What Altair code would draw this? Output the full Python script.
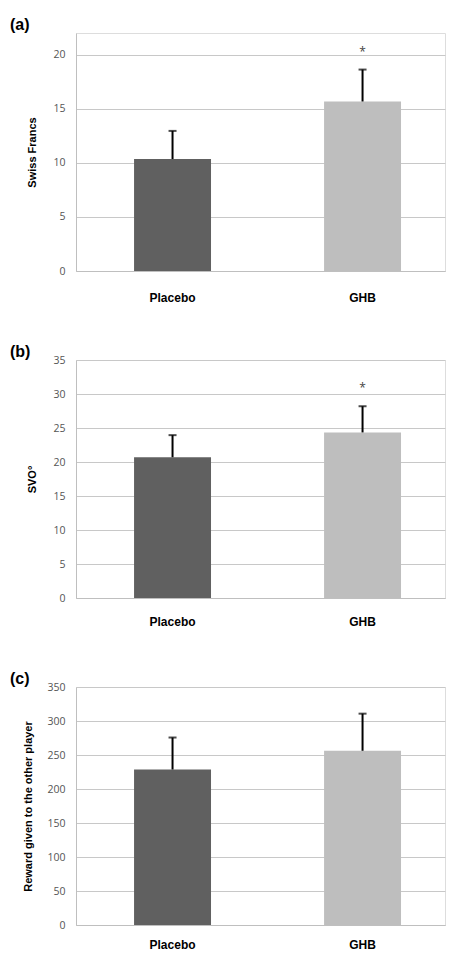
import altair as alt
import pandas as pd

groups = ["Placebo", "GHB"]
colors = ["#606060", "#bebebe"]

money_mean = [10.35, 15.67]
money_err = [2.6, 2.95]
svo_mean = [20.7, 24.35]
svo_err = [3.25, 3.85]
reward_mean = [228.7, 256.2]
reward_err = [47.0, 54.6]
stars_a = ["", "*"]
stars_b = ["", "*"]
stars_c = ["", ""]

W = 369
H = 238
FONT_LBL = "Liberation Sans, Arial, sans-serif"
FONT_TICK = "Open Sans, Noto Sans, sans-serif"


def panel(means, errs, stars, label, ytitle, dmax, ticks, title_x, lab_pad, title_off):
    df = pd.DataFrame({
        "group": groups,
        "mean": means,
        "top": [m + e for m, e in zip(means, errs)],
        "star": stars,
    })
    xaxis = alt.Axis(labelAngle=0, ticks=False, domain=True, domainColor="#bfbfbf",
                     labelFont=FONT_LBL, labelFontWeight="bold", labelFontSize=12,
                     labelColor="#000000", labelPadding=lab_pad)
    xscale = alt.Scale(paddingInner=0.595, paddingOuter=0.2685, align=0.569)
    yscale = alt.Scale(domain=[0, dmax], nice=False)
    yaxis = alt.Axis(values=ticks, grid=True, gridColor="#c8c8c8", ticks=False,
                     domain=True, domainColor="#bfbfbf", labelOverlap=False,
                     labelFont=FONT_TICK, labelFontSize=10.5, labelColor="#555555",
                     labelPadding=11,
                     titleFont=FONT_LBL, titleFontWeight="bold", titleFontSize=11,
                     titleColor="#000000", titleX=title_x, titleBaseline="middle")
    X = lambda: alt.X("group:N", sort=groups, title=None, scale=xscale, axis=xaxis)
    base = alt.Chart(df)
    bars = base.mark_bar().encode(
        x=X(),
        y=alt.Y("mean:Q", scale=yscale, title=ytitle, axis=yaxis),
        color=alt.Color("group:N", sort=groups, scale=alt.Scale(domain=groups, range=colors), legend=None),
    )
    rule = base.mark_rule(color="#000000", strokeWidth=2).encode(
        x=X(), y=alt.Y("mean:Q", scale=yscale, title=ytitle, axis=yaxis), y2="top:Q")
    cap = base.mark_tick(color="#000000", size=8, thickness=2, orient="horizontal").encode(
        x=X(), y=alt.Y("top:Q", scale=yscale, title=ytitle, axis=yaxis))
    star = base.mark_text(font=FONT_TICK, fontSize=12, color="#444444", baseline="middle", dy=-18).encode(
        x=X(), y=alt.Y("top:Q", scale=yscale, title=ytitle, axis=yaxis), text="star:N")
    return alt.layer(bars, rule, cap, star).properties(
        width=W, height=H,
        title=alt.TitleParams(label, anchor="start", frame="group", font=FONT_LBL, fontSize=16,
                              fontWeight="bold", color="#000000", dx=-66, offset=title_off),
    )


a = panel(money_mean, money_err, stars_a, "(a)", "Swiss Francs", 22, [0, 5, 10, 15, 20], -44, 21, 0)
b = panel(svo_mean, svo_err, stars_b, "(b)", "SVO°", 35, [0, 5, 10, 15, 20, 25, 30, 35], -44, 18, -5)
c = panel(reward_mean, reward_err, stars_c, "(c)", "Reward given to the other player", 350,
          [0, 50, 100, 150, 200, 250, 300, 350], -48, 14, -5)

chart = alt.vconcat(a, b, c, spacing=89, bounds="flush").properties(
    padding={"left": 1, "top": 8, "right": 0, "bottom": 0}
).configure_view(stroke=None).configure(background="white")

chart.save("out.html", embed_options={"renderer": "svg", "actions": False})
